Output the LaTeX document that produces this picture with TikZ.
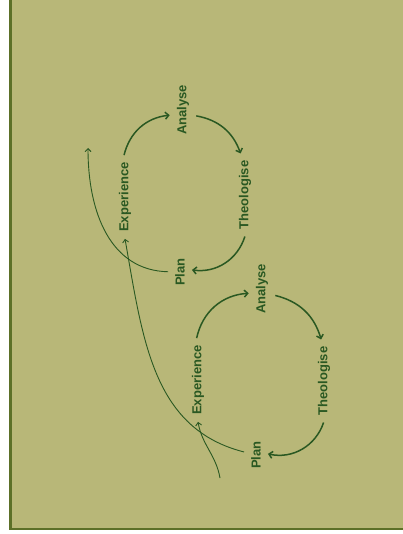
\documentclass[tikz,border=0pt]{standalone}
\usepackage{fontspec}
\setsansfont{Liberation Sans}
\usepackage{xcolor}
\usetikzlibrary{arrows.meta}
\definecolor{slide}{RGB}{184,183,120}
\definecolor{ink}{RGB}{42,88,34}
\definecolor{frame}{RGB}{92,112,40}
\tikzset{
  stage/.style={rotate=90, inner sep=7pt, text=ink, font=\sffamily\bfseries\fontsize{13}{15}\selectfont},
  cycarrow/.style={-{Straight Barb[length=3.5pt,width=7pt]}, draw=ink, line width=1.5pt},
  longarrow/.style={-{Straight Barb[length=3pt,width=6pt]}, draw=ink, line width=0.9pt},
}

\begin{document}
\begin{tikzpicture}[x=1pt,y=1pt]
\useasboundingbox (0,0) rectangle (403,-534);
\fill[white] (0,0) rectangle (403,-534);
\fill[slide] (11,0) rectangle (403,-529);
\draw[frame, line width=2.5pt] (10.5,0) -- (10.5,-529) -- (403,-529);
\node[stage] (e1) at (125,-197) {Experience};
\node[stage] (a1) at (183,-110) {Analyse};
\node[stage] (t1) at (245,-195) {Theologise};
\node[stage] (p1) at (180,-272) {Plan};
\node[stage] (e2) at (198,-380) {Experience};
\node[stage] (a2) at (262,-289) {Analyse};
\node[stage] (t2) at (324,-381) {Theologise};
\node[stage] (p2) at (256,-455) {Plan};
\coordinate (start) at (220,-478);
\coordinate (onward) at (88,-148);
\draw[cycarrow] (e1) to[bend left=35] (a1);
\draw[cycarrow] (a1) to[bend left=30] (t1);
\draw[cycarrow] (t1) to[bend left=40] (p1);
\draw[cycarrow] (e2) to[bend left=37] (a2);
\draw[cycarrow] (a2) to[bend left=30] (t2);
\draw[cycarrow] (t2) to[bend left=42] (p2);
\draw[longarrow] (start) to[out=100,in=-80] (e2.west);
\draw[longarrow] (p2) to[out=153,in=-80] (e1.west);
\draw[longarrow] (p1) to[out=160,in=-90] (onward);
\end{tikzpicture}
\end{document}
